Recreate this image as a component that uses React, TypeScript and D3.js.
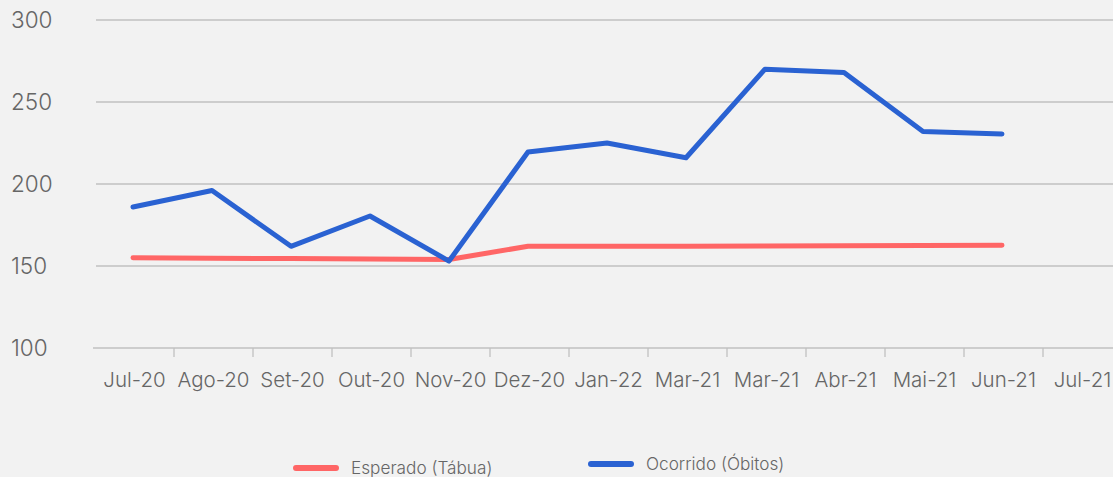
import React, { useEffect, useRef } from "react";
import * as d3 from "d3";

const months = [
  "Jul-20", "Ago-20", "Set-20", "Out-20", "Nov-20", "Dez-20",
  "Jan-22", "Mar-21", "Mar-21 ", "Abr-21", "Mai-21", "Jun-21", "Jul-21",
];
const esperado = [155, 154.8, 154.5, 154.3, 154, 162, 162, 162, 162.2, 162.3, 162.5, 162.7];
const ocorrido = [186, 196, 162, 180.5, 153, 219.5, 225, 216, 270, 268, 232, 230.5];
const yTicks = [100, 150, 200, 250, 300];

const W = 1113;
const H = 477;
const FONT = "Inter, Lato, sans-serif";

const App = () => {
  const ref = useRef<SVGSVGElement>(null);

  useEffect(() => {
    const svg = d3.select(ref.current);
    svg.selectAll("*").remove();

    svg.append("rect").attr("width", W).attr("height", H).attr("fill", "#f2f2f2");

    const x = d3.scaleBand().domain(months).range([95, 95 + 13 * 79]);
    const y = d3.scaleLinear().domain([100, 300]).range([348, 20]);

    // grid lines
    svg
      .selectAll(".grid")
      .data(yTicks.filter((t) => t > 100))
      .enter()
      .append("line")
      .attr("x1", 96)
      .attr("x2", W)
      .attr("y1", (d) => y(d))
      .attr("y2", (d) => y(d))
      .attr("stroke", "#c0c0c0")
      .attr("stroke-width", 1.3);

    // x axis line + ticks
    svg
      .append("line")
      .attr("x1", 93)
      .attr("x2", W)
      .attr("y1", y(100))
      .attr("y2", y(100))
      .attr("stroke", "#c0c0c0")
      .attr("stroke-width", 1.3);

    svg
      .selectAll(".tick")
      .data(months.slice(1))
      .enter()
      .append("line")
      .attr("x1", (d) => x(d)!)
      .attr("x2", (d) => x(d)!)
      .attr("y1", y(100))
      .attr("y2", y(100) + 9)
      .attr("stroke", "#c0c0c0")
      .attr("stroke-width", 1.3);

    // y labels
    svg
      .selectAll(".ylab")
      .data(yTicks)
      .enter()
      .append("text")
      .attr("x", 11)
      .attr("y", (d) => y(d) + 8)
      .attr("font-family", FONT)
      .attr("font-weight", 300)
      .attr("font-size", 22.5)
      .attr("fill", "#666")
      .text((d) => d);

    // x labels
    svg
      .selectAll(".xlab")
      .data(months)
      .enter()
      .append("text")
      .attr("x", (d) => x(d)! + x.bandwidth() / 2)
      .attr("y", 387)
      .attr("text-anchor", "middle")
      .attr("font-family", FONT)
      .attr("font-weight", 300)
      .attr("font-size", 20.5)
      .attr("fill", "#666")
      .text((d) => d.trim());

    const line = d3
      .line<number>()
      .x((_, i) => x(months[i])! + x.bandwidth() / 2 - 1.5)
      .y((d) => y(d));

    svg
      .append("path")
      .attr("d", line(esperado))
      .attr("fill", "none")
      .attr("stroke", "#ff6666")
      .attr("stroke-width", 5)
      .attr("stroke-linecap", "round")
      .attr("stroke-linejoin", "round");

    svg
      .append("path")
      .attr("d", line(ocorrido))
      .attr("fill", "none")
      .attr("stroke", "#2a62d2")
      .attr("stroke-width", 5)
      .attr("stroke-linecap", "round")
      .attr("stroke-linejoin", "round");

    // legend
    const legend = [
      { label: "Esperado (Tábua)", color: "#ff6666", x: 296, y: 468 },
      { label: "Ocorrido (Óbitos)", color: "#2a62d2", x: 591, y: 464 },
    ];
    legend.forEach((l) => {
      svg
        .append("line")
        .attr("x1", l.x)
        .attr("x2", l.x + 40)
        .attr("y1", l.y)
        .attr("y2", l.y)
        .attr("stroke", l.color)
        .attr("stroke-width", 6)
        .attr("stroke-linecap", "round");
      svg
        .append("text")
        .attr("x", l.x + 55)
        .attr("y", l.y + 6)
        .attr("font-family", FONT)
        .attr("font-weight", 300)
        .attr("font-size", 17.2)
        .attr("fill", "#666")
        .text(l.label);
    });
  }, []);

  return (
    <svg
      ref={ref}
      width={W}
      height={H}
      style={{ position: "absolute", left: 0, top: 0, display: "block" }}
    />
  );
};

export default App;
